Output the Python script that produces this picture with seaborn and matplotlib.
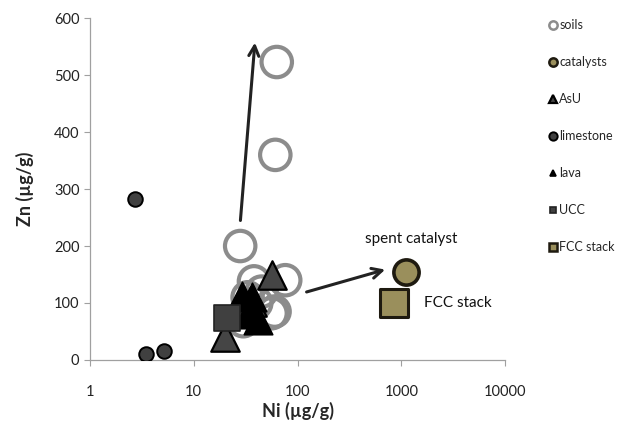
import matplotlib
matplotlib.use("Agg")
import matplotlib.pyplot as plt
import seaborn as sns
import pandas as pd
from matplotlib.lines import Line2D

sns.set_theme(style="white")
plt.rcParams['font.family'] = ['Lato', 'DejaVu Sans']

# Data (Ni, Zn in µg/g)
soils_ni = [63, 61, 28, 38, 76, 33, 40, 56, 30, 45, 60]
soils_zn = [523, 360, 200, 138, 140, 110, 100, 82, 68, 120, 85]
catalysts_ni = [1100]
catalysts_zn = [154]
asu_ni = [57, 20, 36, 31]
asu_zn = [150, 40, 102, 82]
limestone_ni = [2.7, 3.5, 5.2]
limestone_zn = [282, 10, 15]
lava_ni = [29, 36, 42, 33]
lava_zn = [112, 110, 70, 80]
ucc_ni = [21]
ucc_zn = [73]
fcc_ni = [850]
fcc_zn = [100]

groups = ["soils", "catalysts", "AsU", "limestone", "lava", "UCC", "FCC stack"]
frames = []
for g, xs, ys in zip(groups,
                     [soils_ni, catalysts_ni, asu_ni, limestone_ni, lava_ni, ucc_ni, fcc_ni],
                     [soils_zn, catalysts_zn, asu_zn, limestone_zn, lava_zn, ucc_zn, fcc_zn]):
    frames.append(pd.DataFrame({"Ni": xs, "Zn": ys, "group": g}))
df = pd.concat(frames, ignore_index=True)

styles = {
    "soils":     dict(marker="o", s=480, facecolor="none", edgecolor="#8c8c8c", linewidth=3.0),
    "catalysts": dict(marker="o", s=330, facecolor="#9a8f5c", edgecolor="#1e1a10", linewidth=2.6),
    "AsU":       dict(marker="^", s=420, facecolor="#454545", edgecolor="#000000", linewidth=1.6),
    "limestone": dict(marker="o", s=110, facecolor="#404040", edgecolor="#000000", linewidth=1.4),
    "lava":      dict(marker="^", s=420, facecolor="#000000", edgecolor="#000000", linewidth=1.2),
    "UCC":       dict(marker="s", s=330, facecolor="#404040", edgecolor="#222222", linewidth=1.2),
    "FCC stack": dict(marker="s", s=420, facecolor="#9a8f5c", edgecolor="#1e1a10", linewidth=2.2),
}
legend_sizes = {"soils": 6, "catalysts": 6, "AsU": 6, "limestone": 6, "lava": 5, "UCC": 5, "FCC stack": 6}

fig = plt.figure(figsize=(6.2, 4.22), dpi=100)
ax = fig.add_axes([0.145, 0.147, 0.67, 0.81])

for g in groups:
    st = styles[g]
    sub = df[df["group"] == g]
    sns.scatterplot(data=sub, x="Ni", y="Zn", ax=ax, marker=st["marker"], s=st["s"],
                    facecolor=st["facecolor"], edgecolor=st["edgecolor"],
                    linewidth=st["linewidth"], zorder=3 if g != "soils" else 2, legend=False)

ax.set_xscale("log")
ax.set_xlim(1, 10000)
ax.set_ylim(0, 600)
ax.set_xticks([1, 10, 100, 1000, 10000])
ax.set_xticklabels(["1", "10", "100", "1000", "10000"])
ax.set_yticks([0, 100, 200, 300, 400, 500, 600])
ax.minorticks_off()
ax.tick_params(axis="both", labelsize=10.5, length=4, width=0.8, direction="out")
ax.tick_params(axis="x", colors="#a0a0a0", labelcolor="#222222", pad=14)
ax.tick_params(axis="y", colors="#a0a0a0", labelcolor="#222222")
ax.xaxis.set_ticks_position("bottom")
ax.yaxis.set_ticks_position("left")
for sp in ["top", "right"]:
    ax.spines[sp].set_visible(False)
for sp in ["left", "bottom"]:
    ax.spines[sp].set_color("#a0a0a0")
    ax.spines[sp].set_linewidth(0.9)

ax.set_xlabel("Ni (µg/g)", fontsize=13, fontweight="bold", labelpad=2)
ax.set_ylabel("Zn (µg/g)", fontsize=13, fontweight="bold", labelpad=14)

# Arrows
ax.annotate("", xy=(39, 562), xytext=(28, 240),
            arrowprops=dict(arrowstyle="->", color="#222222", lw=2.2, mutation_scale=18), zorder=4)
ax.annotate("", xy=(740, 160), xytext=(115, 118),
            arrowprops=dict(arrowstyle="->", color="#222222", lw=2.2, mutation_scale=18), zorder=4)

ax.text(1250, 200, "spent catalyst", fontsize=11, ha="center", va="bottom", color="#111111")
ax.text(1650, 100, "FCC stack", fontsize=11, ha="left", va="center", color="#111111")

# Legend
handles = []
for g in groups:
    st = styles[g]
    handles.append(Line2D([], [], linestyle="none", marker=st["marker"],
                          markersize=legend_sizes[g],
                          markerfacecolor=st["facecolor"],
                          markeredgecolor=st["edgecolor"],
                          markeredgewidth=min(st["linewidth"], 1.8)))
fig.legend(handles, groups, loc="upper left", bbox_to_anchor=(0.885, 0.955),
           frameon=False, fontsize=9, labelspacing=2.0, handletextpad=0.15,
           handlelength=0.7, borderaxespad=0, borderpad=0)

fig.savefig("out.png", dpi=100)
